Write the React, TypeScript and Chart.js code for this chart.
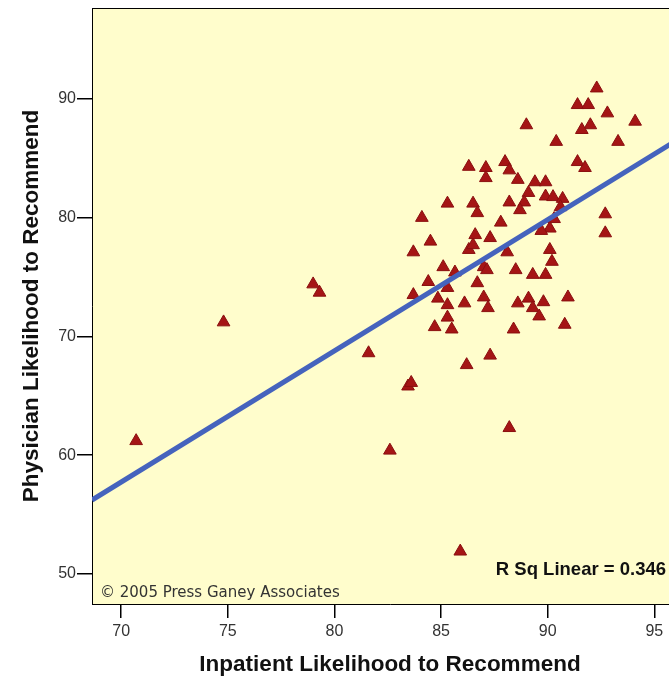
import React, { useEffect, useRef } from "react";
import { Chart, registerables } from "chart.js";

Chart.register(...registerables);

const inpatient = [
  70.7, 74.8, 79.0, 79.3, 81.6, 82.6, 83.45, 83.6, 85.9, 88.2,
  86.2, 87.3, 84.7, 85.5, 85.3, 88.4, 90.8, 83.7, 84.4, 84.85,
  85.3, 85.3, 86.1, 87.0, 87.2, 86.7, 88.6, 89.1, 89.3, 89.6,
  89.8, 90.95, 85.1, 85.65, 87.0, 87.15, 88.5, 89.3, 89.9, 90.2,
  90.1, 83.7, 84.5, 84.1, 85.3, 86.3, 86.5, 86.6, 87.3, 87.8,
  88.1, 86.5, 86.7, 86.3, 87.1, 87.1, 88.0, 88.2, 88.6, 89.0,
  89.4, 89.9, 89.1, 88.9, 88.7, 88.2, 89.9, 90.25, 90.7, 90.6,
  90.3, 90.1, 89.7, 90.4, 91.4, 91.75, 92.3, 91.4, 91.9, 92.8,
  94.1, 92.0, 91.6, 93.3, 92.7, 92.7,
];

const physician = [
  61.2, 71.2, 74.4, 73.7, 68.6, 60.4, 65.8, 66.1, 51.9, 62.3,
  67.6, 68.4, 70.8, 70.6, 71.6, 70.6, 71.0, 73.5, 74.6, 73.2,
  72.65, 74.1, 72.8, 73.3, 72.4, 74.5, 72.8, 73.2, 72.4, 71.7,
  72.9, 73.3, 75.85, 75.4, 75.85, 75.6, 75.6, 75.2, 75.2, 76.3,
  77.3, 77.1, 78.0, 80.0, 81.2, 77.3, 77.7, 78.55, 78.3, 79.6,
  77.1, 81.2, 80.4, 84.3, 84.2, 83.35, 84.7, 84.0, 83.2, 87.8,
  83.0, 83.0, 82.1, 81.3, 80.65, 81.3, 81.8, 81.75, 81.6, 80.9,
  79.9, 79.1, 78.9, 86.4, 84.7, 84.2, 90.9, 89.5, 89.5, 88.8,
  88.1, 87.8, 87.4, 86.4, 80.3, 78.7,
];

const xTicks = [70, 75, 80, 85, 90, 95];
const yTicks = [50, 60, 70, 80, 90];
const xRange = [68.63, 96.58];
const yRange = [47.47, 97.66];

const fitIntercept = -19.61;
const fitSlope = 1.105;
const rSquared = 0.346;

const xTitle = "Inpatient Likelihood to Recommend";
const yTitle = "Physician Likelihood to Recommend";
const copyright = "\u00A9 2005 Press Ganey Associates";

const decorPlugin = {
  id: "decor",
  beforeDraw(chart: any) {
    const { ctx, chartArea } = chart;
    if (!chartArea) return;
    ctx.save();
    ctx.fillStyle = "#fffdcc";
    ctx.fillRect(chartArea.left, chartArea.top, chartArea.right - chartArea.left, chartArea.bottom - chartArea.top);
    ctx.restore();
  },
  afterDraw(chart: any) {
    const { ctx, chartArea } = chart;
    if (!chartArea) return;
    ctx.save();
    ctx.strokeStyle = "#000";
    ctx.lineWidth = 1;
    ctx.beginPath();
    ctx.moveTo(chartArea.left, chartArea.top + 0.5);
    ctx.lineTo(chartArea.right, chartArea.top + 0.5);
    ctx.stroke();

    ctx.fillStyle = "#333";
    ctx.font = "15px 'DejaVu Sans'";
    ctx.textAlign = "left";
    ctx.textBaseline = "middle";
    ctx.fillText(copyright, chartArea.left + 8, chartArea.bottom - 11);

    ctx.fillStyle = "#111";
    ctx.font = "bold 18.5px 'Liberation Sans'";
    ctx.textAlign = "right";
    ctx.fillText("R Sq Linear = " + rSquared.toFixed(3), chartArea.right - 22, chartArea.bottom - 34);
    ctx.restore();
  },
};

export default function App() {
  const ref = useRef<HTMLCanvasElement | null>(null);

  useEffect(() => {
    if (!ref.current) return;
    const points = inpatient.map((x, i) => ({ x, y: physician[i] }));
    const fitLine = xRange.map((x) => ({ x, y: fitIntercept + fitSlope * x }));

    const chart = new Chart(ref.current, {
      type: "scatter",
      data: {
        datasets: [
          {
            type: "line",
            data: fitLine,
            borderColor: "#4563bd",
            borderWidth: 5,
            pointRadius: 0,
            fill: false,
            order: 0,
          } as any,
          {
            data: points,
            pointStyle: "triangle",
            pointRadius: 7.3,
            backgroundColor: "#a51515",
            borderColor: "#8a0f0f",
            borderWidth: 1,
            order: 1,
          },
        ],
      },
      options: {
        responsive: false,
        animation: false,
        layout: { autoPadding: false, padding: { top: 8, left: 0, right: 0, bottom: 0 } },
        plugins: {
          legend: { display: false },
          tooltip: { enabled: false },
        },
        scales: {
          x: {
            type: "linear",
            min: xRange[0],
            max: xRange[1],
            afterBuildTicks: (scale: any) => {
              scale.ticks = xTicks.map((v) => ({ value: v }));
            },
            afterFit: (scale: any) => {
              scale.height = 76;
              scale.paddingLeft = 0;
              scale.paddingRight = 0;
            },
            grid: {
              display: true,
              drawOnChartArea: false,
              drawTicks: true,
              tickLength: 14,
              color: "#000",
              lineWidth: 1.5,
            },
            border: { display: true, color: "#000", width: 1 },
            ticks: {
              color: "#333",
              padding: 4,
              font: { family: "'Liberation Sans'", size: 16 },
              maxRotation: 0,
            },
            title: {
              display: true,
              text: xTitle,
              color: "#111",
              font: { family: "'Liberation Sans'", size: 22.5, weight: "bold" },
              padding: { top: 0, bottom: 1.5 },
            },
          },
          y: {
            type: "linear",
            min: yRange[0],
            max: yRange[1],
            afterBuildTicks: (scale: any) => {
              scale.ticks = yTicks.map((v) => ({ value: v }));
            },
            afterFit: (scale: any) => {
              scale.width = 92;
              scale.paddingTop = 0;
              scale.paddingBottom = 0;
            },
            grid: {
              display: true,
              drawOnChartArea: false,
              drawTicks: true,
              tickLength: 15,
              color: "#000",
              lineWidth: 1.5,
            },
            border: { display: true, color: "#000", width: 1 },
            ticks: {
              color: "#333",
              padding: 1,
              font: { family: "'Liberation Sans'", size: 16 },
            },
            title: {
              display: true,
              text: yTitle,
              color: "#111",
              font: { family: "'Liberation Sans'", size: 22.5, weight: "bold" },
              padding: { top: 18.5, bottom: 0 },
            },
          },
        },
      },
      plugins: [decorPlugin],
    });

    return () => chart.destroy();
  }, []);

  return (
    <div style={{ position: "fixed", left: 0, top: 0, width: 669, height: 680, overflow: "hidden", background: "#fff" }}>
      <canvas ref={ref} width={688} height={680} style={{ display: "block", width: 688, height: 680 }} />
    </div>
  );
}
